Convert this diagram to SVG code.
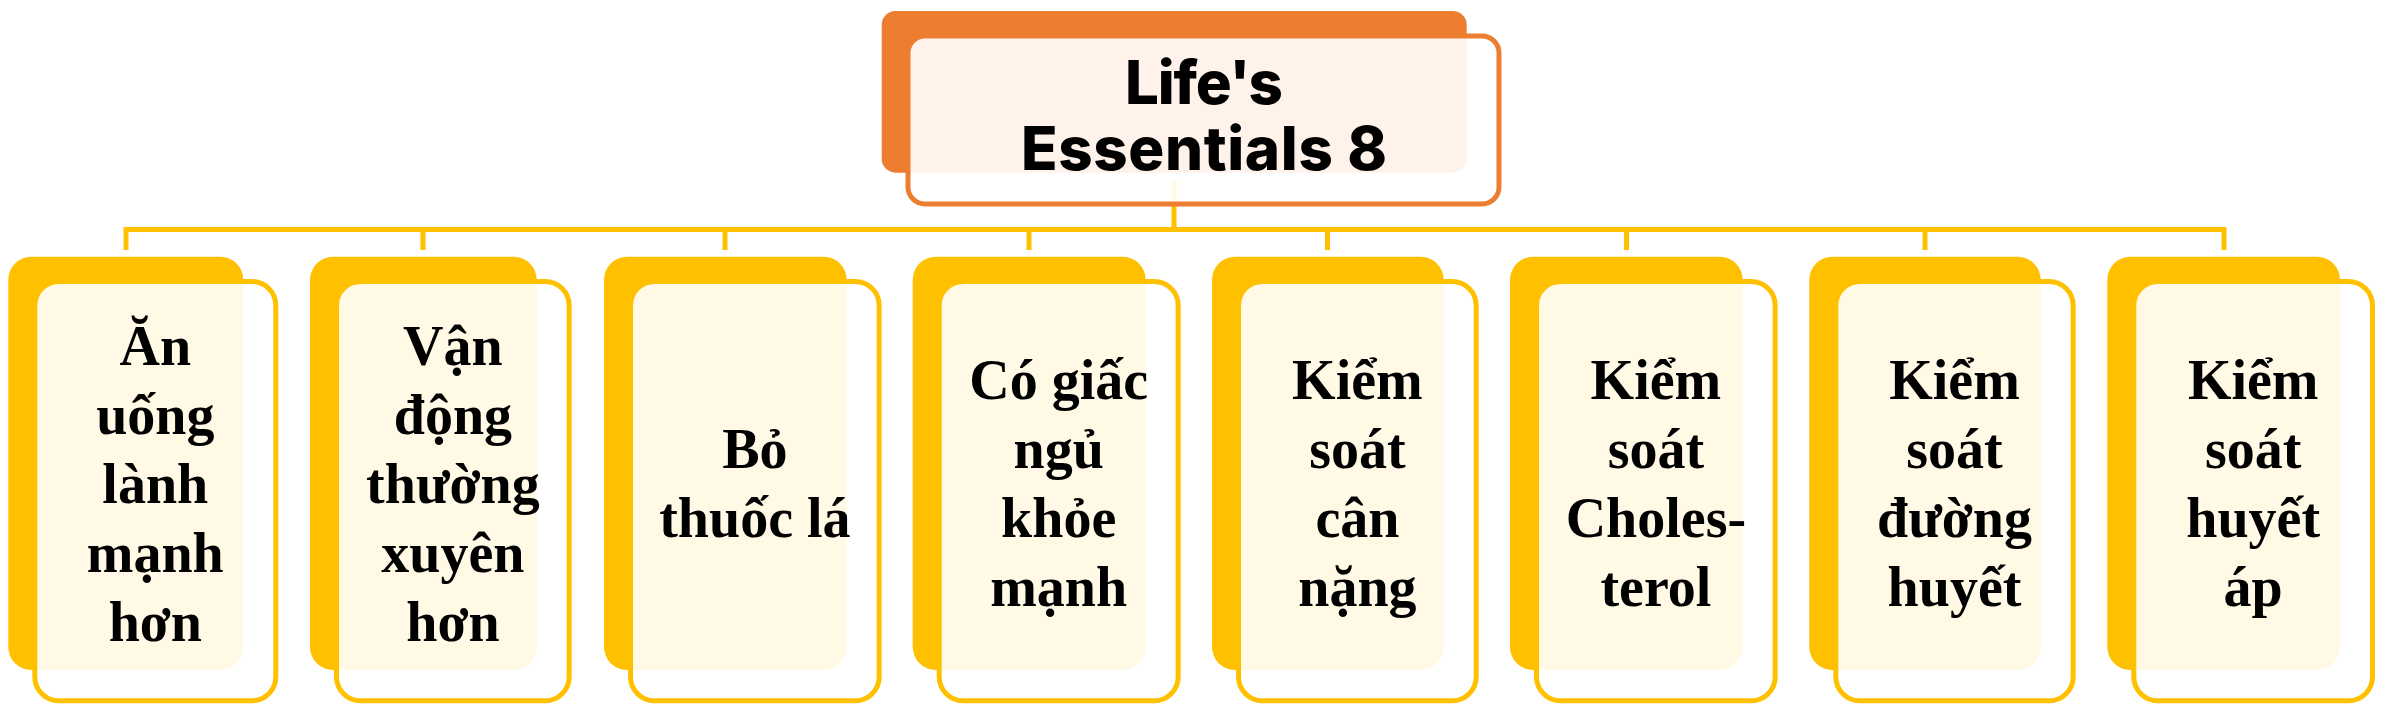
<svg xmlns="http://www.w3.org/2000/svg" width="2383" height="715" viewBox="0 0 2383 715">
<style>
.bg{fill:#FFFFFF}
.conn{fill:none;stroke:#FFC000;stroke-width:5;stroke-linejoin:miter;stroke-linecap:butt}
.back-y{fill:#FFC000}
.front-y{fill:#FFFFFF;fill-opacity:0.9;stroke:#FFC000;stroke-width:5}
.back-o{fill:#ED7D31}
.front-o{fill:#FFFFFF;fill-opacity:0.9;stroke:#ED7D31;stroke-width:5}
.title{font-family:Inter,"Noto Sans","Liberation Sans",sans-serif;font-weight:800;font-size:60px;fill:#000000;text-anchor:middle}
.label{font-family:"Liberation Serif","DejaVu Serif",serif;font-weight:700;font-size:56px;fill:#000000;text-anchor:middle}
</style>
<rect class="bg" x="0" y="0" width="2383" height="715"/>
<g id="connectors">
<path class="conn" d="M126 250 V229.5 H2224 V250"/>
<path class="conn" d="M1174 180 V229.5"/>
<path class="conn" d="M423 229.5 V250"/>
<path class="conn" d="M725 229.5 V250"/>
<path class="conn" d="M1029 229.5 V250"/>
<path class="conn" d="M1327.5 229.5 V250"/>
<path class="conn" d="M1626.5 229.5 V250"/>
<path class="conn" d="M1925 229.5 V250"/>
</g>
<g id="node-root">
<rect class="back-o" x="881.7" y="11" width="585" height="161.7" rx="14"/>
<rect class="front-o" x="908" y="36" width="591" height="168" rx="17"/>
<text class="title"><tspan x="1204" y="104" textLength="158" lengthAdjust="spacing">Life's</tspan><tspan x="1204" y="170" textLength="366" lengthAdjust="spacing">Essentials 8</tspan></text>
</g>
<g id="node-1">
<rect class="back-y" x="8.3" y="256.7" width="235" height="413.3" rx="23"/>
<rect class="front-y" x="34.8" y="281.5" width="241" height="419.2" rx="24"/>
<text class="label"><tspan x="155.3" y="364.5">Ăn</tspan><tspan x="155.3" y="433.5">uống</tspan><tspan x="155.3" y="502.5">lành</tspan><tspan x="155.3" y="571.5">mạnh</tspan><tspan x="155.3" y="640.5">hơn</tspan></text>
</g>
<g id="node-2">
<rect class="back-y" x="310" y="256.7" width="226.7" height="413.3" rx="23"/>
<rect class="front-y" x="336.5" y="281.5" width="232.7" height="419.2" rx="24"/>
<text class="label"><tspan x="452.9" y="364.5">Vận</tspan><tspan x="452.9" y="433.5">động</tspan><tspan x="452.9" y="502.5">thường</tspan><tspan x="452.9" y="571.5">xuyên</tspan><tspan x="452.9" y="640.5">hơn</tspan></text>
</g>
<g id="node-3">
<rect class="back-y" x="604" y="256.7" width="242.7" height="413.3" rx="23"/>
<rect class="front-y" x="630.5" y="281.5" width="248.7" height="419.2" rx="24"/>
<text class="label"><tspan x="754.9" y="468">Bỏ</tspan><tspan x="754.9" y="537">thuốc lá</tspan></text>
</g>
<g id="node-4">
<rect class="back-y" x="912.7" y="256.7" width="233" height="413.3" rx="23"/>
<rect class="front-y" x="939.2" y="281.5" width="239" height="419.2" rx="24"/>
<text class="label"><tspan x="1058.7" y="399">Có giấc</tspan><tspan x="1058.7" y="468">ngủ</tspan><tspan x="1058.7" y="537">khỏe</tspan><tspan x="1058.7" y="606">mạnh</tspan></text>
</g>
<g id="node-5">
<rect class="back-y" x="1212" y="256.7" width="231.7" height="413.3" rx="23"/>
<rect class="front-y" x="1238.5" y="281.5" width="237.7" height="419.2" rx="24"/>
<text class="label"><tspan x="1357.4" y="399">Kiểm</tspan><tspan x="1357.4" y="468">soát</tspan><tspan x="1357.4" y="537">cân</tspan><tspan x="1357.4" y="606">nặng</tspan></text>
</g>
<g id="node-6">
<rect class="back-y" x="1510" y="256.7" width="232.7" height="413.3" rx="23"/>
<rect class="front-y" x="1536.5" y="281.5" width="238.7" height="419.2" rx="24"/>
<text class="label"><tspan x="1655.9" y="399">Kiểm</tspan><tspan x="1655.9" y="468">soát</tspan><tspan x="1655.9" y="537">Choles-</tspan><tspan x="1655.9" y="606">terol</tspan></text>
</g>
<g id="node-7">
<rect class="back-y" x="1809.3" y="256.7" width="231.4" height="413.3" rx="23"/>
<rect class="front-y" x="1835.8" y="281.5" width="237.4" height="419.2" rx="24"/>
<text class="label"><tspan x="1954.5" y="399">Kiểm</tspan><tspan x="1954.5" y="468">soát</tspan><tspan x="1954.5" y="537">đường</tspan><tspan x="1954.5" y="606">huyết</tspan></text>
</g>
<g id="node-8">
<rect class="back-y" x="2107.3" y="256.7" width="232.7" height="413.3" rx="23"/>
<rect class="front-y" x="2133.8" y="281.5" width="238.7" height="419.2" rx="24"/>
<text class="label"><tspan x="2253.2" y="399">Kiểm</tspan><tspan x="2253.2" y="468">soát</tspan><tspan x="2253.2" y="537">huyết</tspan><tspan x="2253.2" y="606">áp</tspan></text>
</g>
</svg>
